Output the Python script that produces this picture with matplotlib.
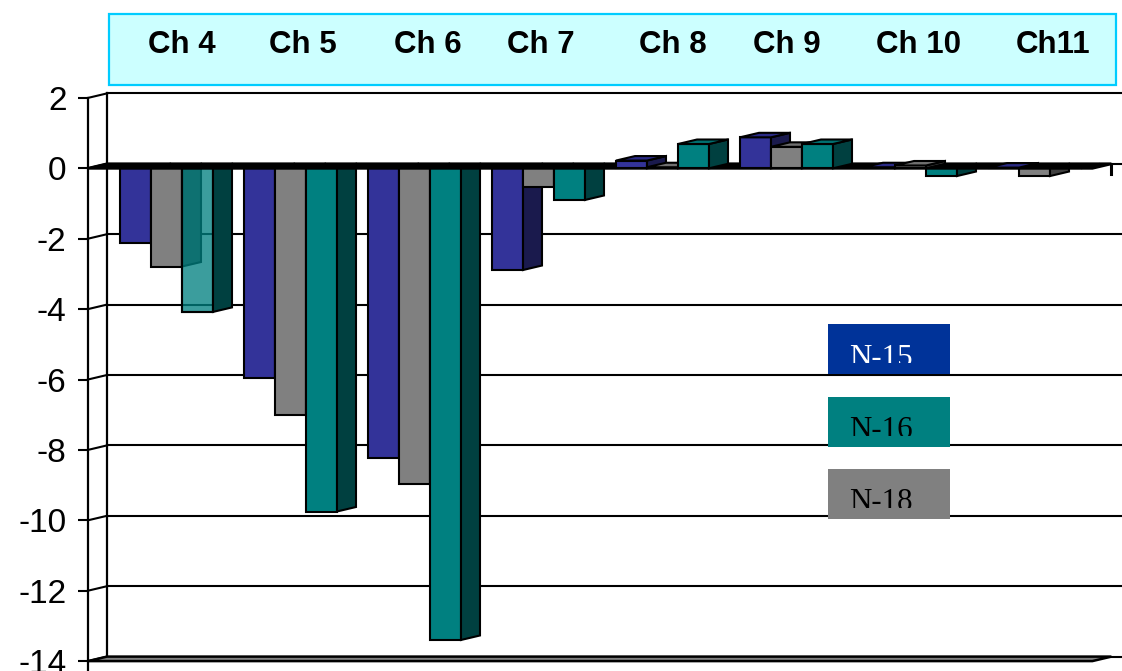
import matplotlib
matplotlib.use("Agg")
import matplotlib.pyplot as plt
from matplotlib.patches import Polygon, Rectangle
import matplotlib.transforms as mtransforms

# ---- data -------------------------------------------------------------
channels = ["Ch 4", "Ch 5", "Ch 6", "Ch 7", "Ch 8", "Ch 9", "Ch 10", "Ch11"]
n15 = [-2.13, -5.97, -8.22, -2.89, 0.22, 0.88, 0.03, 0.02]
n18 = [-2.79, -7.00, -8.97, -0.52, 0.03, 0.61, 0.08, -0.22]
n16 = [-4.08, -9.75, -13.40, -0.90, 0.69, 0.69, -0.22, 0.00]
y_ticks = [2, 0, -2, -4, -6, -8, -10, -12, -14]
legend_labels = ["N-15", "N-16", "N-18"]

# ---- styling ----------------------------------------------------------
plt.rcParams["axes.unicode_minus"] = False
SANS = ["Liberation Sans", "DejaVu Sans"]
SERIF = ["Liberation Serif", "DejaVu Serif"]

# front / side / top colours per series
styles = {
    "N-15": dict(front="#333399", side="#1A1A4D", top="#2A2A85"),
    "N-18": dict(front="#808080", side="#404040", top="#707070"),
    "N-16": dict(front="#008080", side="#004040", top="#007070"),
}
legend_colors = {"N-15": "#003399", "N-16": "#008080", "N-18": "#808080"}
legend_text_colors = {"N-15": "white", "N-16": "black", "N-18": "black"}
# the Ch 4 / N-16 bar is drawn see-through
front_alpha = {(0, "N-16"): 0.77}
# hand-placed header captions: horizontal nudge in pixels
header_nudge = [6, 3, 4, -7, 1, -9, -2, 9]

W, H = 1122, 671
fig = plt.figure(figsize=(W / 100, H / 100), dpi=100)


def fx(px):
    return px / W


def fy(py):
    return 1 - py / H


# plotting box: front plane, value 2 .. -14
PX_GROUP = 124.0
PX_UNIT = 35.2
front_left = 88
zero_px = 168.3
top_px = zero_px - 2 * PX_UNIT
bot_px = zero_px + 14 * PX_UNIT
ax = fig.add_axes([fx(front_left), fy(bot_px), fx(W) - fx(front_left),
                   (bot_px - top_px) / H])
XMAX = (W - front_left) / PX_GROUP
ax.set_xlim(0, XMAX)
ax.set_ylim(-14, 2)
ax.patch.set_visible(False)

# depth offset of the back wall, in data units
DX = 19 / PX_GROUP
DY = 4.5 / PX_UNIT
BAR_W = 31 / PX_GROUP
FIRST = 32 / PX_GROUP
FLOOR_END = 8.10
EDGE = "black"
LW = 1.5
GRID_LW = 1.5

# ---- axes furniture ----------------------------------------------------
for s in ("top", "right", "bottom"):
    ax.spines[s].set_visible(False)
ax.spines["left"].set_linewidth(1.6)
ax.set_xticks([])
ax.set_yticks(y_ticks)
ax.set_yticklabels([str(v) for v in y_ticks], family=SANS, fontsize=24)
ax.tick_params(axis="y", direction="out", length=7.5, width=1.5, pad=8)
ax.plot([0, 0], [-14, -14 - 10 / PX_UNIT], color=EDGE, lw=1.6, clip_on=False)

# back wall gridlines and their links to the front axis
for v in y_ticks:
    ax.plot([DX, XMAX + 1], [v + DY, v + DY], color=EDGE, lw=GRID_LW,
            clip_on=False, zorder=1)
    ax.plot([0, DX], [v, v + DY], color=EDGE, lw=GRID_LW, clip_on=False,
            zorder=1)
ax.plot([DX, DX], [-14 + DY, 2 + DY], color=EDGE, lw=1.6, clip_on=False,
        zorder=1)

# bottom floor slab
ax.add_patch(Polygon([(0, -14), (FLOOR_END, -14), (FLOOR_END + DX, -14 + DY),
                      (DX, -14 + DY)], closed=True, facecolor="#808080",
                     edgecolor=EDGE, lw=1.8, clip_on=False, zorder=1))


def draw_bar(x0, v, st, z, alpha=1.0):
    ax.bar(x0, v, width=BAR_W, align="edge", color=st["front"], alpha=alpha,
           edgecolor=EDGE, linewidth=LW, zorder=z, clip_on=False)
    if alpha < 1:
        ax.bar(x0, v, width=BAR_W, align="edge", fill=False,
               edgecolor=EDGE, linewidth=LW, zorder=z, clip_on=False)
    xr = x0 + BAR_W
    ax.add_patch(Polygon([(xr, 0), (xr, v), (xr + DX, v + DY), (xr + DX, DY)],
                         closed=True, facecolor=st["side"], edgecolor=EDGE,
                         lw=LW, zorder=z, clip_on=False))
    if v > 0:
        ax.add_patch(Polygon([(x0, v), (xr, v), (xr + DX, v + DY),
                              (x0 + DX, v + DY)], closed=True,
                             facecolor=st["top"], edgecolor=EDGE, lw=LW,
                             zorder=z, clip_on=False))


series = [("N-15", n15), ("N-18", n18), ("N-16", n16)]
for i in range(len(channels)):
    for j, (name, vals) in enumerate(series):
        v = vals[i]
        x0 = i + FIRST + j * BAR_W
        z = 2 if v < 0 else 4
        draw_bar(x0, v, styles[name], z, front_alpha.get((i, name), 1.0))

# floor at zero
ax.add_patch(Polygon([(0, 0), (FLOOR_END, 0), (FLOOR_END + DX, DY), (DX, DY)],
                     closed=True, facecolor=EDGE, edgecolor=EDGE, lw=2.0,
                     clip_on=False, zorder=3))
ax.plot([FLOOR_END + DX, FLOOR_END + DX], [DY, DY - 0.3], color=EDGE, lw=2.2,
        clip_on=False, zorder=3)

# ---- category header --------------------------------------------------
fig.add_artist(Rectangle((fx(109), fy(85)), fx(1116) - fx(109), (85 - 14) / H,
                         transform=fig.transFigure, facecolor="#CCFFFF",
                         edgecolor="#00CCFF", lw=1.6, zorder=-1))
blend = mtransforms.blended_transform_factory(ax.transData, fig.transFigure)
for i, name in enumerate(channels):
    cx = i + FIRST + 1.5 * BAR_W + DX / 2 + header_nudge[i] / PX_GROUP
    fig.text(0, 0, name, transform=blend, ha="center", va="center",
             fontsize=22.5, fontweight="bold", family=SANS).set_position(
        (cx, fy(45)))

# ---- legend boxes ------------------------------------------------------
box_tops = [324, 397, 469]
for name, top in zip(legend_labels, box_tops):
    box = Rectangle((fx(828), fy(top + 50)), fx(950) - fx(828), 50 / H,
                    transform=fig.transFigure, facecolor=legend_colors[name],
                    edgecolor="none", zorder=5)
    fig.add_artist(box)
    clip = Rectangle((fx(828), fy(top + 39)), fx(950) - fx(828), 39 / H,
                     transform=fig.transFigure, facecolor="none",
                     edgecolor="none")
    t = fig.text(fx(849), fy(top + 41.5), name, ha="left", va="baseline",
                 fontsize=22.3, family=SERIF,
                 color=legend_text_colors[name], zorder=6)
    t.set_clip_path(clip)

fig.savefig("out.png", dpi=100)
